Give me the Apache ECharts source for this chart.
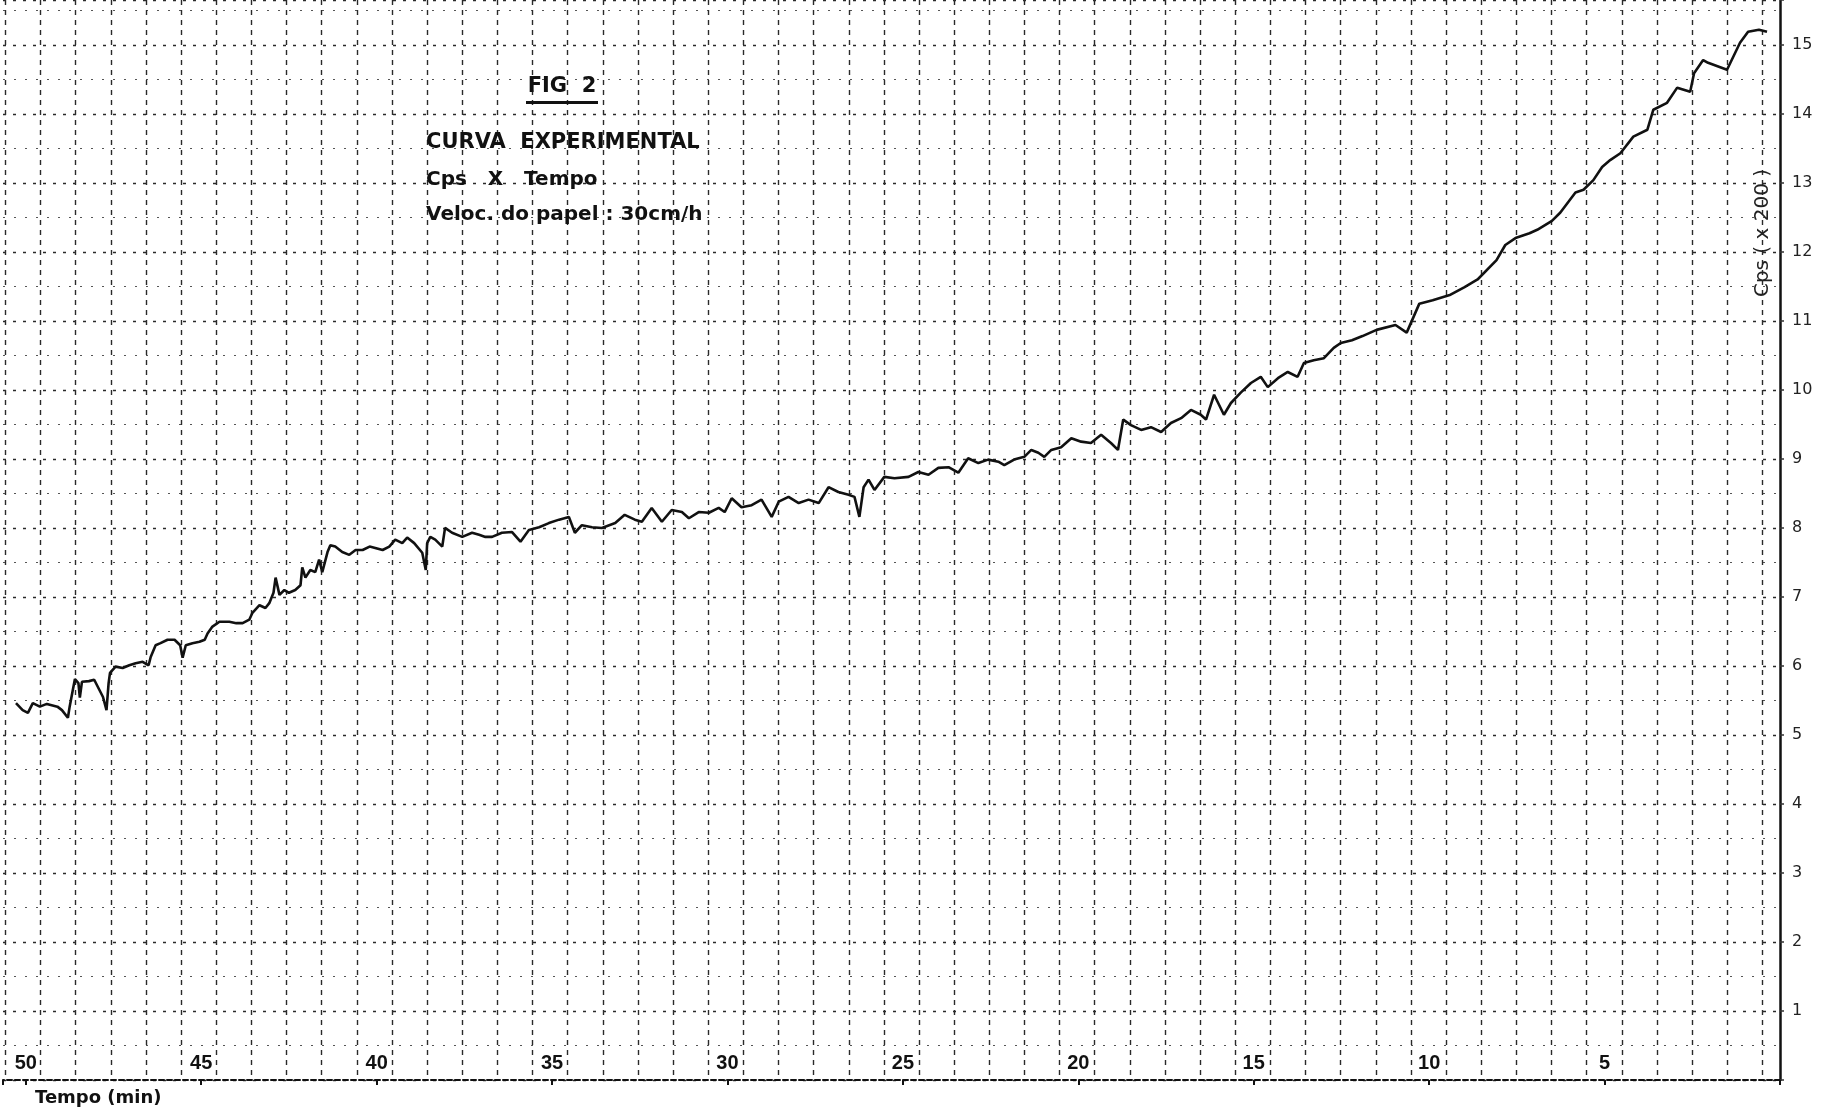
<!DOCTYPE html>
<html>
<head>
<meta charset="utf-8">
<script src="https://cdn.jsdelivr.net/npm/echarts@6/dist/echarts.min.js"></script>
<style>
html,body{margin:0;padding:0;background:#fff;}
#chart{width:1822px;height:1112px;}
</style>
</head>
<body>
<div id="chart"></div>
<script>
// Tempo (min), left to right
const tempo = [
50.28,50.09,49.94,49.80,49.60,49.40,49.10,48.97,48.80,48.75,48.66,48.60,48.50,48.46,48.40,48.20,48.05,47.80,47.70,47.64,
47.60,47.44,47.24,47.05,46.87,46.67,46.50,46.44,46.30,46.16,45.96,45.76,45.60,45.53,45.44,45.25,45.05,44.90,44.82,44.68,
44.48,44.20,44.00,43.82,43.63,43.54,43.34,43.17,43.06,42.94,42.88,42.77,42.63,42.50,42.32,42.17,42.12,42.03,41.89,41.75,
41.64,41.55,41.40,41.32,41.18,40.98,40.78,40.60,40.40,40.20,40.04,39.83,39.64,39.47,39.27,39.13,38.93,38.70,38.60,38.56,
38.47,38.33,38.13,38.05,37.85,37.56,37.28,37.08,36.90,36.71,36.43,36.14,35.90,35.66,35.37,35.09,34.80,34.52,34.35,34.15,
33.86,33.58,33.20,32.93,32.64,32.44,32.16,31.87,31.59,31.30,31.10,30.82,30.53,30.25,30.08,29.88,29.60,29.31,29.03,28.74,
28.54,28.26,27.97,27.69,27.40,27.12,26.84,26.55,26.38,26.24,26.12,25.98,25.81,25.53,25.24,24.84,24.56,24.27,23.99,23.70,
23.42,23.14,22.85,22.57,22.28,22.11,21.83,21.54,21.34,21.14,20.97,20.77,20.49,20.20,19.92,19.64,19.35,19.07,18.87,18.72,
18.50,18.21,17.93,17.64,17.36,17.07,16.79,16.51,16.36,16.13,15.85,15.65,15.37,15.08,14.80,14.60,14.31,14.03,13.75,13.57,
13.29,13.00,12.72,12.52,12.20,11.90,11.50,10.96,10.64,10.28,9.90,9.39,8.99,8.62,8.08,7.83,7.54,7.14,6.92,6.50,
6.26,5.83,5.60,5.32,5.07,4.84,4.55,4.18,3.78,3.61,3.22,2.93,2.56,2.45,2.19,2.05,1.51,1.14,0.91,0.60,
0.37
];
// Cps (x200)
const cps = [
5.46,5.36,5.32,5.46,5.41,5.45,5.41,5.36,5.25,5.41,5.65,5.81,5.75,5.54,5.77,5.78,5.80,5.55,5.36,5.75,
5.90,5.99,5.97,6.01,6.04,6.06,6.01,6.13,6.30,6.33,6.38,6.38,6.30,6.12,6.30,6.33,6.35,6.38,6.47,6.57,
6.64,6.64,6.62,6.62,6.67,6.77,6.88,6.84,6.91,7.06,7.28,7.03,7.10,7.06,7.10,7.17,7.43,7.28,7.39,7.36,
7.54,7.36,7.65,7.75,7.73,7.65,7.61,7.68,7.68,7.73,7.71,7.68,7.73,7.83,7.78,7.86,7.78,7.64,7.39,7.78,
7.87,7.83,7.73,8.00,7.93,7.87,7.93,7.90,7.87,7.87,7.93,7.94,7.80,7.97,8.01,8.07,8.12,8.16,7.93,8.04,
8.01,8.00,8.07,8.19,8.12,8.09,8.29,8.09,8.26,8.23,8.14,8.23,8.22,8.29,8.23,8.43,8.30,8.33,8.41,8.16,
8.38,8.45,8.36,8.41,8.36,8.59,8.52,8.48,8.45,8.16,8.59,8.70,8.55,8.74,8.72,8.74,8.81,8.77,8.87,8.88,
8.80,9.01,8.94,8.99,8.96,8.91,8.99,9.03,9.13,9.09,9.03,9.13,9.17,9.30,9.25,9.23,9.35,9.23,9.13,9.57,
9.49,9.42,9.46,9.39,9.52,9.59,9.71,9.64,9.57,9.93,9.64,9.81,9.96,10.10,10.19,10.04,10.17,10.26,10.19,10.39,
10.43,10.46,10.61,10.68,10.72,10.78,10.87,10.94,10.83,11.25,11.30,11.38,11.49,11.60,11.88,12.10,12.20,12.27,12.32,12.45,
12.57,12.86,12.90,13.04,13.23,13.33,13.43,13.67,13.77,14.06,14.16,14.38,14.32,14.59,14.78,14.74,14.64,15.03,15.19,15.22,
15.19
];
// tick labels
const xTickLabels = [50,45,40,35,30,25,20,15,10,5];
const yTickLabels = [1,2,3,4,5,6,7,8,9,10,11,12,13,14,15];

const chart = echarts.init(document.getElementById('chart'), null, {renderer:'canvas'});
const pts = tempo.map((t,i)=>[t,cps[i]]);

const option = {
  backgroundColor:'#ffffff',
  animation:false,
  grid:[
    {left:0, right:42, top:0, bottom:32, containLabel:false},
    {left:5.4, right:59.6, top:0, bottom:32, containLabel:false}
  ],
  xAxis:[
    {
      type:'value', gridIndex:0, inverse:true, min:0, max:50.65, interval:5,
      axisLine:{show:true, lineStyle:{color:'#111', width:2, type:[5,3]}},
      axisTick:{show:true, length:5, lineStyle:{color:'#111', width:2}},
      axisLabel:{
        inside:true, margin:7, color:'#111',
        fontFamily:'Liberation Sans', fontWeight:'bold', fontSize:20,
        formatter:v => xTickLabels.includes(v) ? String(v) : ''
      },
      splitLine:{show:false}
    },
    {
      type:'value', gridIndex:1, inverse:true, min:0, max:50, interval:1,
      axisLine:{show:false}, axisTick:{show:false}, axisLabel:{show:false},
      splitLine:{show:true, lineStyle:{color:'#2a2a2a', width:1.4, type:[5,5]}}
    }
  ],
  yAxis:[
    {
      type:'value', gridIndex:0, position:'right', min:0, max:15.65, interval:1,
      axisLine:{show:true, lineStyle:{color:'#111', width:2.5}},
      axisTick:{show:true, length:4, lineStyle:{color:'#333', width:1.5}},
      axisLabel:{
        margin:12, color:'#222', fontFamily:'DejaVu Sans', fontSize:16,
        formatter:v => yTickLabels.includes(v) ? String(v) : ''
      },
      splitLine:{show:true, lineStyle:{color:'#2a2a2a', width:1.4, type:[3,7]}},
      minorTick:{show:false, splitNumber:2},
      minorSplitLine:{show:true, lineStyle:{color:'#555', width:1.2, type:[2,9]}}
    },
    {
      type:'value', gridIndex:1, min:0, max:1, show:false,
      splitLine:{show:false}
    }
  ],
  series:[
    {
      type:'line', xAxisIndex:0, yAxisIndex:0, data:pts,
      showSymbol:false, smooth:false, z:5,
      lineStyle:{color:'#111', width:2.6}
    }
  ],
  graphic:[
    {type:'text', x:562, y:87, z:10, style:{text:'FIG  2', fill:'#111', font:'bold 21px "DejaVu Sans"', align:'center', verticalAlign:'middle'}},
    {type:'rect', z:10, shape:{x:526, y:101, width:72, height:3}, style:{fill:'#111'}},
    {type:'text', x:426, y:143, z:10, style:{text:'CURVA  EXPERIMENTAL', fill:'#111', font:'bold 21px "DejaVu Sans"', align:'left', verticalAlign:'middle'}},
    {type:'text', x:426, y:180, z:10, style:{text:'Cps   X   Tempo', fill:'#111', font:'bold 20px "DejaVu Sans"', align:'left', verticalAlign:'middle'}},
    {type:'text', x:426, y:215, z:10, style:{text:'Veloc. do papel : 30cm/h', fill:'#111', font:'bold 20px "DejaVu Sans"', align:'left', verticalAlign:'middle'}},
    {type:'text', x:35, y:1098, z:10, style:{text:'Tempo (min)', fill:'#111', font:'bold 18px "DejaVu Sans"', align:'left', verticalAlign:'middle'}},
    {type:'text', x:1763, y:233, rotation:Math.PI/2, z:10, style:{text:'Cps ( x 200 )', fill:'#222', font:'20px "DejaVu Sans"', align:'center', verticalAlign:'middle'}}
  ]
};
chart.setOption(option);
</script>
</body>
</html>
